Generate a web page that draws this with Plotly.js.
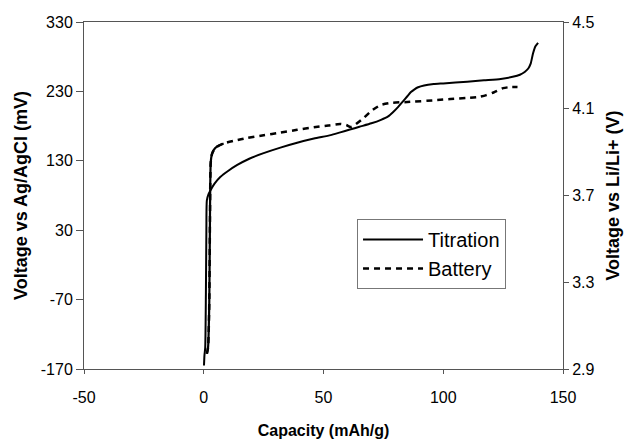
<!DOCTYPE html>
<html>
<head>
<meta charset="utf-8">
<script src="https://cdn.plot.ly/plotly-3.0.1.min.js"></script>
<style>html,body{margin:0;padding:0;background:#fff;}#chart{width:629px;height:439px;}</style>
</head>
<body>
<div id="chart"></div>
<script>
// Titration: capacity (mAh/g) vs voltage (mV vs Ag/AgCl)
const titrationCapacity = [0.1, 0.3, 0.6, 0.9, 1.1, 1.3, 2.0, 2.9, 4.5, 7, 10, 14, 19, 25, 32, 39, 46, 53, 57, 61, 65, 70, 74, 77, 79, 81, 83, 85, 86.5, 88, 89.5, 92, 96, 100, 110, 117, 124, 129, 132, 134, 135.5, 136.5, 137.5, 138.5, 139.6];
const titrationVoltage = [-165, -150, -140, -60, 30, 73, 82, 88, 97, 107, 115, 124, 133, 141, 149, 156, 162, 167, 171, 175, 179, 184, 189, 194, 200, 207, 215, 223, 229, 233, 236, 238.5, 240.5, 241.5, 244, 246, 248, 251, 254, 258, 263, 270, 285, 295, 300];
// Battery: capacity (mAh/g) vs voltage (V vs Li/Li+)
const batteryCapacity = [1.3, 1.8, 2.3, 2.6, 2.9, 3.4, 4.2, 5.5, 8.3, 13, 18, 25, 32, 39, 46, 52, 57, 59.5, 61.3, 63, 66.7, 70, 73.8, 77.9, 85, 97.5, 103, 110, 115, 118, 121, 125, 128, 131];
const batteryVoltage = [2.97, 3.0, 3.2, 3.6, 3.85, 3.89, 3.91, 3.925, 3.94, 3.953, 3.965, 3.978, 3.99, 4.003, 4.015, 4.023, 4.03, 4.025, 4.016, 4.025, 4.057, 4.09, 4.117, 4.127, 4.131, 4.14, 4.145, 4.15, 4.155, 4.163, 4.175, 4.195, 4.2, 4.2];
const xTicks = [-50, 0, 50, 100, 150];
const yTicks = [-170, -70, 30, 130, 230, 330];
const y2Ticks = [2.9, 3.3, 3.7, 4.1, 4.5];

const solidEnd = 9; // steep part of the battery curve drawn dense (solid-looking)

const traces = [
  {x: titrationCapacity, y: titrationVoltage, name: 'Titration', mode: 'lines',
   line: {color: '#000', width: 2, shape: 'spline', smoothing: 0.6}, yaxis: 'y'},
  {x: batteryCapacity, y: batteryVoltage, name: 'Battery', mode: 'lines',
   line: {color: '#000', width: 2.5, dash: '6px,5px', shape: 'spline', smoothing: 0.6}, yaxis: 'y2'},
  {x: batteryCapacity.slice(0, solidEnd), y: batteryVoltage.slice(0, solidEnd), mode: 'lines', showlegend: false,
   line: {color: '#000', width: 2.2, shape: 'spline', smoothing: 0.6}, yaxis: 'y2', hoverinfo: 'skip'}
];

const fam = 'Liberation Sans, Arial, sans-serif';
const tickFont = {family: fam, size: 16, color: '#000'};

const layout = {
  width: 629, height: 439,
  margin: {l: 84, r: 66, t: 22, b: 70},
  paper_bgcolor: '#fff', plot_bgcolor: '#fff',
  showlegend: true,
  xaxis: {range: [-50, 150], tickvals: xTicks, ticktext: xTicks.map(String), showgrid: false, zeroline: false,
    showline: true, linecolor: '#555', linewidth: 1, mirror: true, ticks: 'outside', ticklen: 4, tickcolor: '#555',
    ticklabelstandoff: 10,
    tickfont: tickFont, title: {text: 'Capacity (mAh/g)', font: {family: fam, size: 16, color: '#000', weight: 'bold'}, standoff: 22}},
  yaxis: {range: [-170, 330], tickvals: yTicks, ticktext: yTicks.map(String), showgrid: false, zeroline: false,
    showline: true, linecolor: '#555', linewidth: 1, ticks: 'outside', ticklen: 7, tickcolor: '#555',
    tickfont: tickFont, title: {text: 'Voltage vs Ag/AgCl (mV)', font: {family: fam, size: 18, color: '#000', weight: 'bold'}, standoff: 8}},
  yaxis2: {range: [2.9, 4.5], tickvals: y2Ticks, ticktext: y2Ticks.map(v => v.toFixed(1)), overlaying: 'y', side: 'right',
    showgrid: false, zeroline: false, showline: true, linecolor: '#555', linewidth: 1, ticks: 'outside', ticklen: 5, tickcolor: '#555',
    tickfont: tickFont, title: {text: 'Voltage vs Li/Li+ (V)', font: {family: fam, size: 18, color: '#000', weight: 'bold'}, standoff: 12}},
  legend: {x: 0.57, y: 0.432, xanchor: 'left', yanchor: 'top', bgcolor: '#fff', bordercolor: '#777', borderwidth: 1,
    itemwidth: 60,
    font: {family: fam, size: 20, color: '#000'}, tracegroupgap: 0}
};

Plotly.newPlot('chart', traces, layout, {staticPlot: true, displayModeBar: false});
</script>
</body>
</html>
